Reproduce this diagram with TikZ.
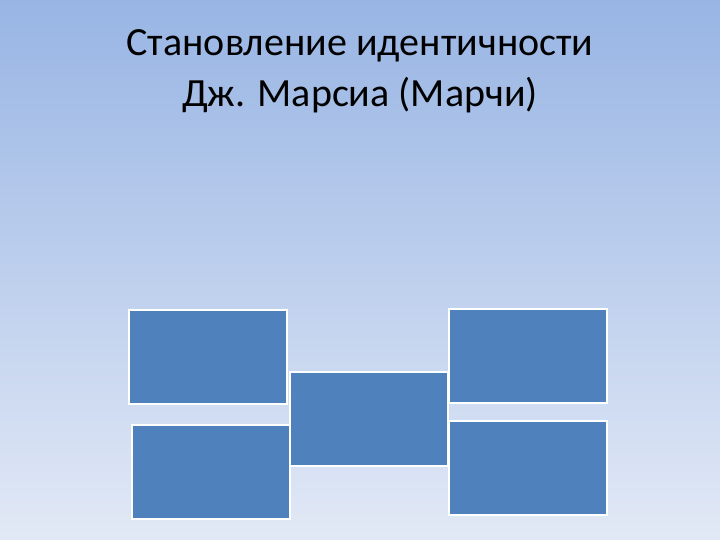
\documentclass[tikz,border=0pt]{standalone}
\usepackage{fontspec}
\setmainfont{Carlito}
\definecolor{bgtop}{RGB}{152,181,228}
\definecolor{bgbot}{RGB}{226,233,246}
\definecolor{boxblue}{RGB}{79,129,189}
\tikzset{
  bluebox/.style={draw=white, line width=2pt, fill=boxblue, minimum width=158pt, minimum height=94pt, inner sep=0pt},
  titletext/.style={align=center, font=\fontsize{40pt}{51pt}\selectfont, text=black, inner sep=0pt}
}
\begin{document}
\begin{tikzpicture}[x=1pt,y=1pt]
\useasboundingbox (0,0) rectangle (720,540);
\shade[top color=bgtop, bottom color=bgbot] (0,0) rectangle (720,540);
\node[titletext, anchor=base] (title) at (360,433) {Становление идентичности\\Дж. Марсиа (Марчи)};
\node[bluebox] (b1) at (208,183) {};
\node[bluebox] (b2) at (211,68) {};
\node[bluebox] (b4) at (528,183.5) {};
\node[bluebox] (b5) at (528,71.5) {};
\node[bluebox] (b3) at (369,121) {};
\end{tikzpicture}
\end{document}
